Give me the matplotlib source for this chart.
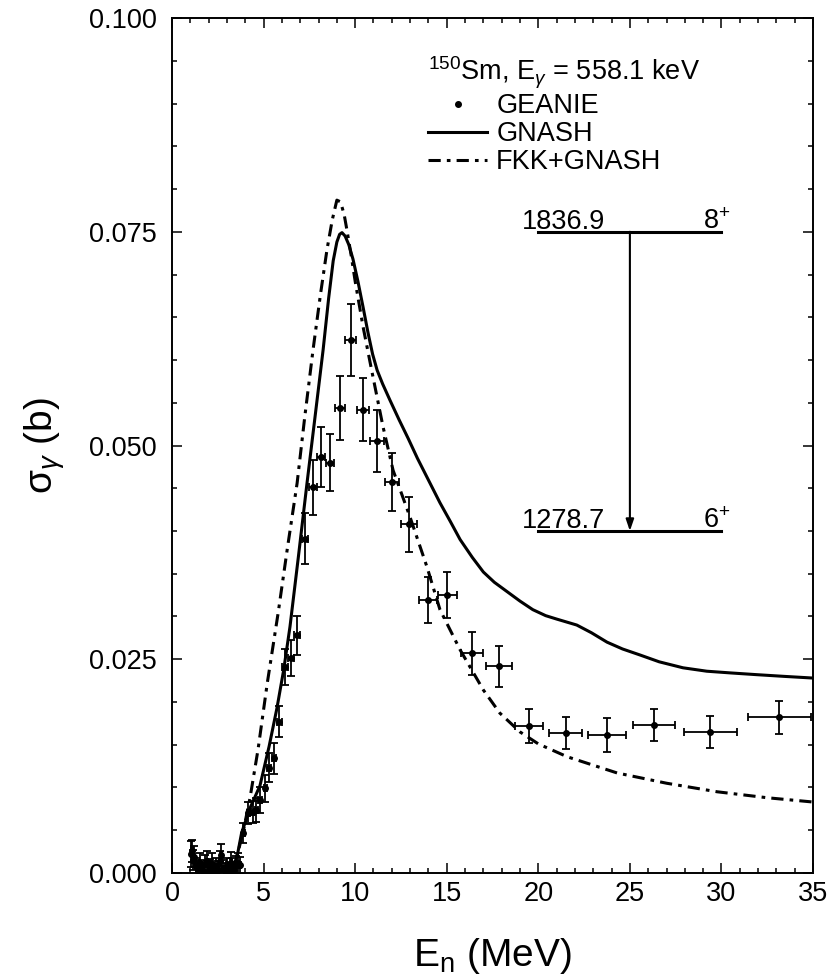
#!/usr/bin/env python3
"""
150Sm(n,n'γ) 558.1 keV γ 产生截面：GEANIE 实验数据 vs GNASH / FKK+GNASH 计算。
输出 out.png (840x980)。
"""

import matplotlib as mpl
import matplotlib.pyplot as plt
from matplotlib.lines import Line2D

# --------------------------------------------------------------------------- #
# 数据
# --------------------------------------------------------------------------- #
# GEANIE 实验点：能量 (MeV)、截面 (b)、误差
EXP_E = [1.05, 1.10, 1.15, 1.20, 1.30, 1.40, 1.50, 1.60, 1.70, 1.80,
         1.90, 2.00, 2.10, 2.20, 2.30, 2.40, 2.50, 2.60, 2.70, 2.80,
         2.90, 3.00, 3.10, 3.20, 3.30, 3.40, 3.50, 3.60, 3.70, 3.90,
         4.15, 4.40, 4.60, 4.80, 5.10, 5.30, 5.57, 5.85, 6.17, 6.50,
         6.83, 7.26, 7.70, 8.14, 8.63, 9.17, 9.77, 10.43, 11.19, 12.01,
         12.94, 13.98, 15.02, 16.38, 17.86, 19.50, 21.50, 23.75, 26.30, 29.40,
         33.15]
EXP_SIG = [0.0022, 0.0026, 0.0015, 0.0019, 0.0008, 0.0004, 0.0012, 0.0005, 0.0002, 0.0010,
           0.0013, 0.0003, 0.0006, 0.0011, 0.0002, 0.0007, 0.0004, 0.0014, 0.0021, 0.0005,
           0.0003, 0.0008, 0.0004, 0.0012, 0.0006, 0.0003, 0.0009, 0.0011, 0.0009, 0.0047,
           0.0070, 0.0071, 0.0074, 0.0085, 0.0099, 0.0123, 0.0134, 0.0177, 0.0241, 0.0251,
           0.0278, 0.0391, 0.0451, 0.0487, 0.0480, 0.0544, 0.0623, 0.0542, 0.0505, 0.0457,
           0.0408, 0.0319, 0.0325, 0.0257, 0.0242, 0.0172, 0.0164, 0.0161, 0.0173, 0.0165,
           0.0182]
EXP_DSIG = [0.0015, 0.0013, 0.0012, 0.0012, 0.0010, 0.0010, 0.0011, 0.0010, 0.0010, 0.0011,
            0.0013, 0.0010, 0.0010, 0.0012, 0.0009, 0.0010, 0.0010, 0.0012, 0.0013, 0.0010,
            0.0009, 0.0010, 0.0009, 0.0012, 0.0011, 0.0010, 0.0011, 0.0012, 0.0010, 0.0012,
            0.0013, 0.0013, 0.0014, 0.0015, 0.0016, 0.0017, 0.0018, 0.0018, 0.0021, 0.0021,
            0.0023, 0.0030, 0.0032, 0.0035, 0.0033, 0.0037, 0.0042, 0.0037, 0.0036, 0.0034,
            0.0032, 0.0027, 0.0027, 0.0025, 0.0024, 0.0020, 0.0019, 0.0020, 0.0019, 0.0019,
            0.0019]
EXP_DE = [0.04, 0.04, 0.04, 0.04, 0.05, 0.05, 0.05, 0.05, 0.05, 0.05,
          0.05, 0.05, 0.05, 0.05, 0.05, 0.05, 0.05, 0.05, 0.05, 0.05,
          0.05, 0.05, 0.05, 0.05, 0.05, 0.05, 0.05, 0.05, 0.06, 0.07,
          0.08, 0.09, 0.09, 0.10, 0.10, 0.11, 0.12, 0.13, 0.14, 0.15,
          0.15, 0.17, 0.20, 0.20, 0.22, 0.25, 0.30, 0.33, 0.37, 0.40,
          0.45, 0.47, 0.52, 0.60, 0.70, 0.77, 0.90, 1.05, 1.15, 1.43,
          1.72]

# GNASH 计算（实线）
GNASH_E = [3.0, 3.3, 3.55, 3.8, 4.26, 4.8, 5.3, 5.73, 6.1, 6.44,
           6.9, 7.37, 7.8, 8.25, 8.55, 8.8, 9.0, 9.15, 9.28, 9.45,
           9.65, 9.88, 10.15, 10.43, 10.7, 10.95, 11.2, 11.5, 11.9, 12.4,
           12.9, 13.4, 13.92, 14.63, 15.2, 15.73, 16.4, 17.0, 17.6, 18.3,
           19.0, 19.7, 20.4, 21.0, 22.1, 22.9, 23.75, 24.6, 25.55, 26.6,
           27.9, 29.2, 30.5, 31.9, 33.4, 35.0]
GNASH_SIG = [0.0, 0.0006, 0.0019, 0.0047, 0.0076, 0.0102, 0.0148, 0.0193, 0.0238, 0.0288,
             0.0370, 0.0456, 0.0532, 0.0612, 0.0672, 0.0716, 0.0738, 0.0747, 0.0749, 0.0745,
             0.0735, 0.0718, 0.0692, 0.0662, 0.0632, 0.0607, 0.0588, 0.0572, 0.0553, 0.0530,
             0.0508, 0.0485, 0.0463, 0.0433, 0.0411, 0.0390, 0.0369, 0.0352, 0.0340, 0.0329,
             0.0318, 0.0308, 0.0301, 0.0297, 0.0290, 0.0281, 0.0270, 0.0262, 0.0255, 0.0247,
             0.0240, 0.0236, 0.0234, 0.0232, 0.0230, 0.0228]

# FKK+GNASH 计算（点划线）
FKK_E = [3.0, 3.3, 3.6, 3.9, 4.26, 4.7, 5.2, 5.8, 6.3, 6.83,
         7.25, 7.7, 8.1, 8.46, 8.75, 9.0, 9.2, 9.4, 9.55, 9.8,
         10.0, 10.43, 10.9, 11.52, 12.07, 13.0, 13.92, 14.63, 15.73, 17.0,
         17.9, 19.0, 20.0, 21.57, 24.3, 27.0, 29.76, 32.5, 35.0]
FKK_SIG = [0.0, 0.0008, 0.0024, 0.0050, 0.0088, 0.0145, 0.0222, 0.0305, 0.0380, 0.0456,
           0.0534, 0.0612, 0.0676, 0.0729, 0.0764, 0.0787, 0.0785, 0.0770, 0.0752, 0.0720,
           0.0692, 0.0639, 0.0588, 0.0522, 0.0471, 0.0416, 0.0358, 0.0308, 0.0261, 0.0214,
           0.0187, 0.0165, 0.0151, 0.0136, 0.0117, 0.0105, 0.0095, 0.0088, 0.0083]

# 能级纲图（位置用数据坐标）
LEVEL_X = [20.0, 30.0]
LEVEL_Y = [0.075, 0.040]
LEVEL_E = ["1836.9", "1278.7"]
LEVEL_JP = ["8$^{+}$", "6$^{+}$"]
GAMMA_X = 25.0

LABELS = ["GEANIE", "GNASH", "FKK+GNASH"]
TITLE = "$^{150}$Sm, E$_{\\gamma}$ = 558.1 keV"

# --------------------------------------------------------------------------- #
# 样式
# --------------------------------------------------------------------------- #
mpl.rcParams.update(
    {
        "font.family": ["Liberation Sans", "DejaVu Sans"],
        "mathtext.fontset": "custom",
        "mathtext.rm": "Liberation Sans",
        "mathtext.it": "Liberation Sans:italic",
        "mathtext.bf": "Liberation Sans:bold",
        "font.size": 19.5,
        "axes.linewidth": 1.4,
        "xtick.direction": "in",
        "ytick.direction": "in",
        "xtick.top": True,
        "ytick.right": True,
        "xtick.major.size": 7.2,
        "ytick.major.size": 7.2,
        "xtick.minor.size": 3.6,
        "ytick.minor.size": 3.6,
        "xtick.major.width": 1.1,
        "ytick.major.width": 1.1,
        "xtick.minor.width": 1.1,
        "ytick.minor.width": 1.1,
    }
)

DASHDOT = (0, (4.0, 2.0, 1.2, 2.0))
LW = 2.2


def main():
    fig = plt.figure(figsize=(8.4, 9.8), dpi=100)
    ax = fig.add_axes([0.2048, 0.1092, 0.7631, 0.8724])

    ax.plot(GNASH_E, GNASH_SIG, color="k", lw=LW, zorder=3)
    ax.plot(FKK_E, FKK_SIG, color="k", lw=LW, ls=DASHDOT, zorder=3)
    ax.errorbar(EXP_E, EXP_SIG, yerr=EXP_DSIG, xerr=EXP_DE, fmt="o", ms=4,
                color="k", elinewidth=1.3, capsize=3, capthick=1.3, zorder=4)

    # 能级纲图：能级线 + 能量/自旋宇称标注 + γ 跃迁箭头
    for y, e, jp in zip(LEVEL_Y, LEVEL_E, LEVEL_JP):
        ax.plot(LEVEL_X, [y, y], color="k", lw=2.2)
        ax.text(LEVEL_X[0] - 0.9, y + 0.0003, e, ha="left", va="baseline", fontsize=19.5)
        ax.text(LEVEL_X[1] - 1.0, y + 0.0003, jp, ha="left", va="baseline", fontsize=19.5)
    ax.annotate("", xy=(GAMMA_X, LEVEL_Y[1]), xytext=(GAMMA_X, LEVEL_Y[0]),
                arrowprops=dict(arrowstyle="-|>,head_length=0.35,head_width=0.12",
                                color="k", lw=1.5, shrinkA=0, shrinkB=0))

    ax.set_xlim(0, 35)
    ax.set_ylim(0, 0.1)
    ax.set_xticks(range(0, 36, 5))
    ax.set_xticks(range(0, 36), minor=True)
    ax.set_yticks([0.0, 0.025, 0.05, 0.075, 0.1])
    ax.set_yticklabels(["0.000", "0.025", "0.050", "0.075", "0.100"])
    ax.set_yticks([i * 0.005 for i in range(21)], minor=True)
    ax.tick_params(axis="x", which="both", pad=6)
    ax.tick_params(axis="y", which="both", pad=11)

    ax.set_xlabel("E$_{\\mathrm{n}}$ (MeV)", fontsize=28, labelpad=21)
    ax.set_ylabel("σ$_{\\gamma}$ (b)", fontsize=28, labelpad=16)

    handles = [
        Line2D([], [], color="k", marker="o", ms=4, ls="none"),
        Line2D([], [], color="k", lw=LW),
        Line2D([], [], color="k", lw=LW, ls=DASHDOT),
    ]
    ax.legend(handles, LABELS, title=TITLE, title_fontsize=19.5, fontsize=19.5,
              loc="upper left", bbox_to_anchor=(0.40, 0.957), frameon=False,
              borderpad=0, borderaxespad=0, handlelength=2.15, handletextpad=0.35,
              labelspacing=0.08, alignment="left")

    fig.savefig("out.png", dpi=100)
    plt.close(fig)


if __name__ == "__main__":
    main()
